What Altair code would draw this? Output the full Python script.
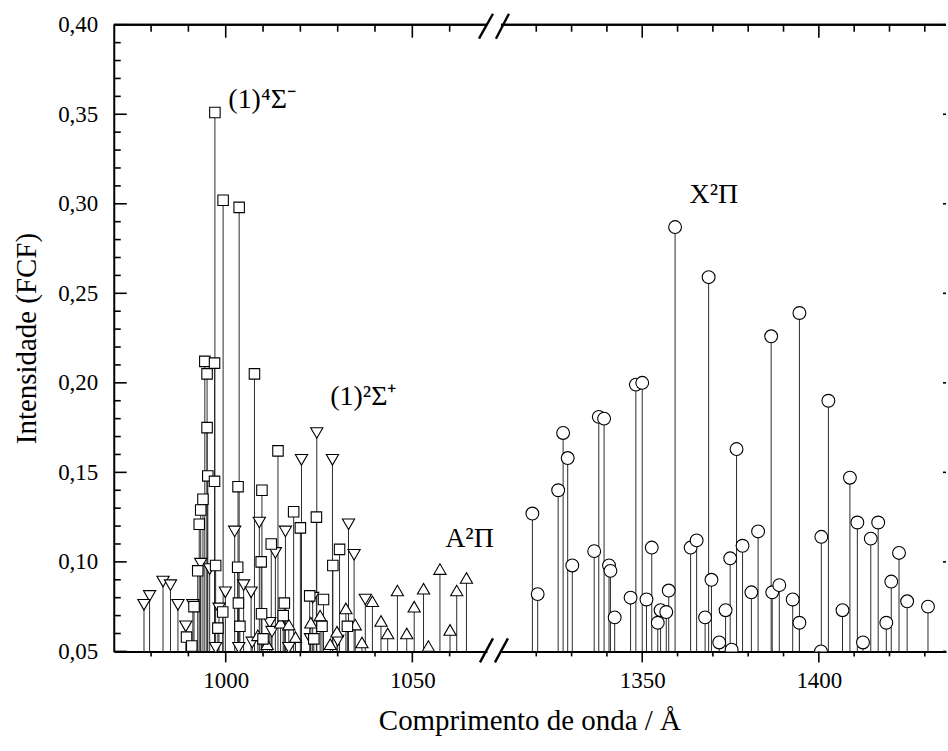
import altair as alt
import pandas as pd

# ---------------- data ----------------
# (1)^4Sigma^- : squares
s4_wl = [997.1, 999.3, 1003.6, 1007.7, 994.4, 997.0, 995.0, 995.0, 995.2, 997.0,
         1003.3, 1009.7, 1014.0, 993.9, 993.3, 992.9, 1018.2, 1020.0, 1024.3, 1012.2,
         1030.5, 1028.7, 1009.5, 1003.2, 997.3, 992.5, 1003.4, 1015.7, 1022.5, 1026.2,
         991.5, 999.2, 1003.8, 1009.6, 1015.4, 989.5, 990.9, 997.9, 1010.0, 1023.6,
         1025.8, 1032.6]
s4_fcf = [0.351, 0.302, 0.298, 0.205, 0.212, 0.211, 0.205, 0.175, 0.148, 0.145,
          0.142, 0.140, 0.162, 0.135, 0.129, 0.121, 0.128, 0.119, 0.125, 0.110,
          0.107, 0.098, 0.100, 0.097, 0.098, 0.095, 0.077, 0.077, 0.081, 0.079,
          0.075, 0.072, 0.064, 0.071, 0.070, 0.058, 0.053, 0.063, 0.057, 0.057,
          0.064, 0.064]

# (1)^2Sigma^+ : down triangles
s2_wl = [1024.4, 1020.3, 1028.6, 1009.0, 1002.4, 1016.0, 1032.9, 1013.3, 1034.4, 993.3,
         995.7, 983.2, 985.2, 999.9, 1004.8, 1006.8, 979.6, 978.1, 987.2, 991.2,
         998.2, 1023.3, 1037.4, 989.3, 1011.8, 1012.4, 1022.7, 1030.0, 1007.1, 1003.5,
         997.3, 1016.9]
s2_fcf = [0.172, 0.157, 0.157, 0.122, 0.117, 0.117, 0.121, 0.105, 0.104, 0.099,
          0.096, 0.089, 0.087, 0.083, 0.087, 0.083, 0.081, 0.076, 0.076, 0.076,
          0.074, 0.080, 0.079, 0.064, 0.066, 0.061, 0.057, 0.056, 0.055, 0.052,
          0.052, 0.052]

# A^2Pi : up triangles
a2_wl = [1032.2, 1034.7, 1029.8, 1039.3, 1041.6, 1043.4, 1046.0, 1048.5, 1050.5, 1053.0,
         1054.3, 1057.4, 1060.1, 1061.9, 1064.5, 1036.5, 1025.3, 1022.8, 1014.7, 1016.9,
         1018.7, 1011.1, 1008.6, 1028.0]
a2_fcf = [0.074, 0.065, 0.061, 0.078, 0.067, 0.060, 0.084, 0.060, 0.075, 0.085,
          0.053, 0.096, 0.062, 0.084, 0.091, 0.055, 0.070, 0.066, 0.066, 0.065,
          0.058, 0.054, 0.059, 0.054]

# X^2Pi : circles
x2_wl = [1318.9, 1320.4, 1326.2, 1327.6, 1328.9, 1330.2, 1336.4, 1337.7, 1339.2, 1340.6,
         1341.0, 1342.2, 1346.7, 1348.2, 1350.0, 1351.2, 1352.7, 1354.4, 1355.2, 1356.8,
         1357.5, 1359.3, 1363.7, 1365.4, 1367.8, 1368.8, 1369.6, 1371.8, 1373.6, 1374.9,
         1375.3, 1376.7, 1378.4, 1380.9, 1382.8, 1386.5, 1386.8, 1388.8, 1392.6, 1394.5,
         1394.5, 1400.6, 1400.7, 1402.7, 1406.7, 1408.8, 1410.9, 1412.5, 1414.7, 1416.8,
         1419.1, 1420.5, 1422.7, 1425.0, 1430.9]
x2_fcf = [0.127, 0.082, 0.140, 0.172, 0.158, 0.098, 0.106, 0.181, 0.180, 0.098,
          0.095, 0.069, 0.080, 0.199, 0.200, 0.079, 0.108, 0.066, 0.073, 0.072,
          0.084, 0.287, 0.108, 0.112, 0.069, 0.259, 0.090, 0.055, 0.073, 0.102,
          0.051, 0.163, 0.109, 0.083, 0.117, 0.226, 0.083, 0.087, 0.079, 0.239,
          0.066, 0.050, 0.114, 0.190, 0.073, 0.147, 0.122, 0.055, 0.113, 0.122,
          0.066, 0.089, 0.105, 0.078, 0.075]

# axis ticks
y_major = [0.05, 0.10, 0.15, 0.20, 0.25, 0.30, 0.35, 0.40]
y_minor = [round(0.05 + 0.01 * i, 2) for i in range(36) if i % 5 != 0]
xl_major = [1000, 1050]
xl_minor = [980, 990, 1010, 1020, 1030, 1040, 1060]
xr_major = [1350, 1400]
xr_minor = [1320, 1330, 1340, 1360, 1370, 1380, 1390, 1410, 1420, 1430]

# ---------------- layout / style ----------------
FONT = "Liberation Serif"
LW, RW, H = 374, 446, 628
YDOM = [0.05, 0.40]
STEM = "#2b2b2b"

yscale = alt.Scale(domain=YDOM, nice=False, zero=False)
xl_scale = alt.Scale(domain=[970, 1070], nice=False, zero=False)
xr_scale = alt.Scale(domain=[1310, 1436], nice=False, zero=False)


def sdf(wl, v):
    return pd.DataFrame({"wl": wl, "fcf": v})


left_all = pd.concat([sdf(s4_wl, s4_fcf), sdf(s2_wl, s2_fcf), sdf(a2_wl, a2_fcf)], ignore_index=True)
right_all = sdf(x2_wl, x2_fcf)

axis_common = dict(domainColor="black", domainWidth=2, labelFont=FONT, labelFontSize=23,
                   labelColor="black", ticks=False, grid=False)

y_axis = alt.Axis(values=y_major, labelExpr="replace(format(datum.value, '.2f'), '.', ',')",
                  labelPadding=16, title="Intensidade (FCF)", titleFont=FONT, titleFontSize=29,
                  titleFontWeight="normal", titleColor="black", titlePadding=16, **axis_common)
xl_axis = alt.Axis(values=xl_major, format="d", labelPadding=18, title=None, **axis_common)
xr_axis = alt.Axis(values=xr_major, format="d", labelPadding=18, title=None, **axis_common)


def make_panel(df, xscale, xaxis, yaxis, shapes, W, major_x, minor_x, right_ticks):
    def X(f):
        return alt.X(f, scale=xscale, axis=xaxis)

    def Y(f):
        return alt.Y(f, scale=yscale, axis=yaxis)

    layers = [alt.Chart(df).mark_rule(color=STEM, strokeWidth=1).encode(
        x=X("wl:Q"), y=Y("fcf:Q"), y2=alt.datum(YDOM[0]))]
    for (wl, v, shape, size) in shapes:
        layers.append(
            alt.Chart(sdf(wl, v)).mark_point(shape=shape, size=size, filled=True, fill="white",
                                             stroke="black", strokeWidth=1.1, opacity=1, clip=True)
            .encode(x=X("wl:Q"), y=Y("fcf:Q"))
        )
    tmaj = pd.DataFrame({"wl": major_x})
    tmin = pd.DataFrame({"wl": minor_x})
    for d, ln in ((tmaj, 13), (tmin, 7)):  # top ticks, inward
        layers.append(alt.Chart(d).mark_rule(color="black", strokeWidth=1.6).encode(
            x=X("wl:Q"), y=alt.value(0), y2=alt.value(ln)))
    for d, ln in ((tmaj, 11), (tmin, 5)):  # bottom ticks, outward
        layers.append(alt.Chart(d).mark_rule(color="black", strokeWidth=1.6).encode(
            x=X("wl:Q"), y=alt.value(H), y2=alt.value(H + ln)))
    layers.append(alt.Chart(tmaj).mark_rule(color="black", strokeWidth=2).encode(
        x=alt.value(0), x2=alt.value(W), y=alt.value(0)))
    ymaj = pd.DataFrame({"fcf": y_major})
    ymin = pd.DataFrame({"fcf": y_minor})
    if not right_ticks:
        for d, ln in ((ymaj, 13), (ymin, 7)):
            layers.append(alt.Chart(d).mark_rule(color="black", strokeWidth=1.6).encode(
                y=Y("fcf:Q"), x=alt.value(0), x2=alt.value(ln)))
    else:
        layers.append(alt.Chart(ymaj).mark_rule(color="black", strokeWidth=1.6).encode(
            y=Y("fcf:Q"), x=alt.value(W - 3), x2=alt.value(W)))
    return layers, X, Y


left_layers, LX, LY = make_panel(left_all, xl_scale, xl_axis, y_axis,
                                 [(s2_wl, s2_fcf, "triangle-down", 150),
                                  (a2_wl, a2_fcf, "triangle-up", 150),
                                  (s4_wl, s4_fcf, "square", 110)],
                                 LW, xl_major, xl_minor, False)
right_layers, RX, RY = make_panel(right_all, xr_scale, xr_axis, None,
                                  [(x2_wl, x2_fcf, "circle", 165)],
                                  RW, xr_major, xr_minor, True)

# axis break marks
brk = pd.DataFrame({"t": [0]})
for (x1, y1, x2, y2) in ((367, 639, 380, 615), (382, 639, 395, 615),
                         (366, 14, 380, -11), (383, 14, 396, -11)):
    left_layers.append(alt.Chart(brk).mark_rule(color="black", strokeWidth=2.4).encode(
        x=alt.value(x1), y=alt.value(y1), x2=alt.value(x2), y2=alt.value(y2)))


def label(x, y, txt, Xf, Yf):
    return alt.Chart(pd.DataFrame({"wl": [x], "fcf": [y]})).mark_text(
        font=FONT, fontSize=28, align="left", baseline="middle", color="black", text=txt
    ).encode(x=Xf("wl:Q"), y=Yf("fcf:Q"))


left_layers.append(label(1000.7, 0.358, "(1)⁴Σ⁻", LX, LY))
left_layers.append(label(1028.0, 0.192, "(1)²Σ⁺", LX, LY))
left_layers.append(label(1058.8, 0.1126, "A²Π", LX, LY))
right_layers.append(label(1363.4, 0.3048, "X²Π", RX, RY))

# x-axis title
left_layers.append(alt.Chart(brk).mark_text(font=FONT, fontSize=29, align="center", baseline="middle",
                                            color="black", text="Comprimento de onda / Å").encode(
    x=alt.value(417), y=alt.value(H + 70)))

left = alt.layer(*left_layers).properties(width=LW, height=H)
right = alt.layer(*right_layers).properties(width=RW, height=H)

chart = alt.hconcat(left, right, spacing=14, bounds="flush").properties(
    padding={"left": 12, "top": 11, "right": 1, "bottom": 5}
).configure_view(stroke=None)

chart.save("out.html", embed_options={"renderer": "svg", "actions": False})
